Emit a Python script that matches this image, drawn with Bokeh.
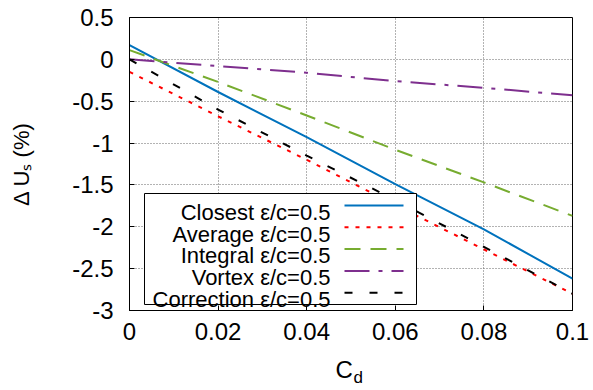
from bokeh.plotting import figure
from bokeh.models import FixedTicker, Label, Range1d
from bokeh.core.properties import value
from bokeh.embed import file_html
from bokeh.resources import INLINE

# ---- data ----
cd = [0.0, 0.02, 0.04, 0.06, 0.08, 0.1]
closest = [0.17, -0.39, -0.93, -1.49, -2.03, -2.62]
average = [-0.15, -0.68, -1.20, -1.74, -2.27, -2.80]
integral = [0.11, -0.27, -0.67, -1.08, -1.47, -1.87]
vortex = [0.0, -0.08, -0.16, -0.26, -0.34, -0.43]
correction = [0.0, -0.60, -1.15, -1.68, -2.24, -2.80]

series_names = ["Closest ε/c=0.5", "Average ε/c=0.5", "Integral ε/c=0.5",
                "Vortex ε/c=0.5", "Correction ε/c=0.5"]

x_ticks = [0, 0.02, 0.04, 0.06, 0.08, 0.1]
x_tick_labels = ["0", "0.02", "0.04", "0.06", "0.08", "0.1"]
y_ticks = [0.5, 0, -0.5, -1, -1.5, -2, -2.5, -3]
y_tick_labels = ["0.5", "0", "-0.5", "-1", "-1.5", "-2", "-2.5", "-3"]
y_title = "Δ Uₛ (%)"

# ---- layout ----
W, H = 593, 390
L, R, T, B = 129, 572, 17, 310
X0, X1 = 0.0, 0.1
Y0, Y1 = -3.0, 0.5
FONT = "Liberation Sans"


def dx(px):
    return X0 + (px - L) / (R - L) * (X1 - X0)


def dy(py):
    return Y1 - (py - T) / (B - T) * (Y1 - Y0)


p = figure(width=W, height=H, output_backend="svg", toolbar_location=None,
           x_range=Range1d(X0, X1), y_range=Range1d(Y0, Y1),
           min_border_left=L, min_border_right=W - R,
           min_border_top=T, min_border_bottom=H - B)
p.background_fill_color = "white"
p.border_fill_color = "white"
p.outline_line_color = "black"
p.outline_line_width = 1

for ax, ticks, labels in ((p.xaxis[0], x_ticks, x_tick_labels),
                          (p.yaxis[0], y_ticks, y_tick_labels)):
    ax.ticker = FixedTicker(ticks=ticks)
    ax.major_label_overrides = {t: s for t, s in zip(ticks, labels)}
    ax.major_label_text_font = FONT
    ax.major_label_text_font_size = "24px"
    ax.major_label_text_color = "black"
    ax.major_tick_in = 5
    ax.major_tick_out = 0
    ax.minor_tick_line_color = None
    ax.axis_line_color = "black"
    ax.major_tick_line_color = "black"
p.yaxis[0].major_label_standoff = 16
p.xaxis[0].major_label_standoff = 12

ya = p.yaxis[0]
ya.axis_label = y_title
ya.axis_label_text_font = FONT
ya.axis_label_text_font_size = "22px"
ya.axis_label_text_font_style = "normal"
ya.axis_label_text_color = "black"
ya.axis_label_standoff = 35

p.xgrid.ticker = FixedTicker(ticks=x_ticks)
p.ygrid.ticker = FixedTicker(ticks=y_ticks)
for g in (p.xgrid[0], p.ygrid[0]):
    g.grid_line_color = "#666666"
    g.grid_line_dash = "1 2"
    g.grid_line_width = 1

styles = [
    ("#0072bd", "solid"),
    ("#ff0000", "4 7"),
    ("#77ac30", "16 10"),
    ("#7e2f8e", "25 9 4 9"),
    ("#000000", "8 17"),
]
all_series = [closest, average, integral, vortex, correction]
for ys, (col, dash) in zip(all_series, styles):
    p.line(cd, ys, line_color=col, line_width=2, line_dash=dash)

# ---- legend (gnuplot style: text right-aligned, sample on the right) ----
box_l, box_r, box_t, box_b = 144, 416, 193, 304
p.quad(left=[dx(box_l)], right=[dx(box_r)], top=[dy(box_t)], bottom=[dy(box_b)],
       fill_color="white", line_color="black", line_width=1, level="annotation")
row0, row_h = 211.7, 21.8
text_right = 330
s_l, s_r = 344, 403
for i, (name, (col, dash)) in enumerate(zip(series_names, styles)):
    base = row0 + i * row_h
    p.text(x=[dx(text_right)], y=[dy(base)], text=[name],
           text_font=value(FONT), text_font_size="22px", text_color="black",
           text_align="right", text_baseline="alphabetic", level="overlay")
    p.line([dx(s_l), dx(s_r)], [dy(base - 6.7), dy(base - 6.7)],
           line_color=col, line_width=2, line_dash=dash, level="overlay")

# ---- x title with subscript (each piece in its own side panel) ----
def xlab(px, off, text, size):
    p.add_layout(Label(x=dx(px), y=off, x_units="data", y_units="screen",
                       text=text, text_font=FONT, text_font_size=size,
                       text_color="black", text_align="left",
                       text_baseline="alphabetic"), "below")

xlab(335, 0.4, "C", "24px")
xlab(353, 11, "d", "17px")

open("out.html", "w").write(file_html(p, INLINE))
